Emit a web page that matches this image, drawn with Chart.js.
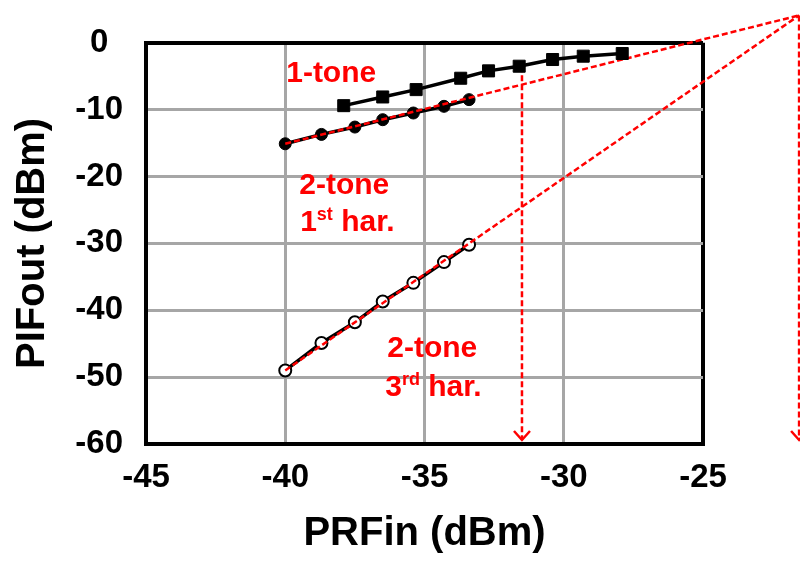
<!DOCTYPE html>
<html>
<head>
<meta charset="utf-8">
<script src="https://cdn.jsdelivr.net/npm/chart.js@4.4.1/dist/chart.umd.min.js"></script>
<style>
  html, body { margin: 0; padding: 0; background: #ffffff; }
  canvas { display: block; }
</style>
</head>
<body>
<canvas id="chart" width="800" height="561"></canvas>
<script>
// Input power sweep (dBm) and measured IF output power (dBm)
const ONE_TONE_PIN  = [-37.9, -36.5, -35.3, -33.7, -32.7, -31.6, -30.4, -29.3, -27.9];
const ONE_TONE_POUT = [-9.4, -8.1, -7.0, -5.3, -4.2, -3.5, -2.5, -2.0, -1.6];

const TWO_TONE_PIN  = [-40.0, -38.7, -37.5, -36.5, -35.4, -34.3, -33.4];
const TWO_TONE_FUND = [-15.1, -13.7, -12.6, -11.5, -10.5, -9.5, -8.5];
const TWO_TONE_IM3  = [-49.0, -44.9, -41.8, -38.7, -35.9, -32.8, -30.2];

// Extrapolated intercept point (input, output) and the 1-dB compression input
const IIP3_PIN  = -21.55;
const IIP3_POUT = 4.1;
const P1DB_PIN  = -31.5;
const P1DB_POUT = -3.5;
const ARROW_END = -59.4;

const X_TICKS = [-45, -40, -35, -30, -25];
const Y_TICKS = [0, -10, -20, -30, -40, -50, -60];

const FONT = "'Liberation Sans', Arial, Helvetica, sans-serif";
const RED = '#ff0000';
const GRID = '#a6a6a6';

const pts = (xs, ys) => xs.map((x, i) => ({ x: x, y: ys[i] }));

// Text labels anchored in data space; parts flagged true are superscripts
const TEXT_LABELS = [
  { x: -38.35, y: -4.27,  parts: [['1-tone', false]] },
  { x: -37.88, y: -21.0,  parts: [['2-tone', false]] },
  { x: -37.77, y: -26.55, parts: [['1', false], ['st', true], [' har.', false]] },
  { x: -34.72, y: -45.4,  parts: [['2-tone', false]] },
  { x: -34.68, y: -51.25, parts: [['3', false], ['rd', true], [' har.', false]] }
];

const annotationPlugin = {
  id: 'annotations',
  afterDatasetsDraw(chart) {
    const ctx = chart.ctx;
    const xs = chart.scales.x, ys = chart.scales.y;

    // arrow heads at the end of the vertical marker lines
    chart.data.datasets.forEach((ds, i) => {
      if (!ds.arrow) return;
      const meta = chart.getDatasetMeta(i);
      const tip = meta.data[meta.data.length - 1];
      ctx.save();
      ctx.strokeStyle = RED;
      ctx.lineWidth = 2.5;
      ctx.beginPath();
      ctx.moveTo(tip.x - 8, tip.y - 9);
      ctx.lineTo(tip.x, tip.y);
      ctx.lineTo(tip.x + 8, tip.y - 9);
      ctx.stroke();
      ctx.restore();
    });

    // series labels
    const size = 30, supSize = 18;
    ctx.save();
    ctx.fillStyle = RED;
    ctx.textBaseline = 'alphabetic';
    ctx.textAlign = 'left';
    TEXT_LABELS.forEach(lbl => {
      const cx = xs.getPixelForValue(lbl.x);
      const cy = ys.getPixelForValue(lbl.y);
      let total = 0;
      const widths = lbl.parts.map(([t, sup]) => {
        ctx.font = 'bold ' + (sup ? supSize : size) + 'px ' + FONT;
        const w = ctx.measureText(t).width;
        total += w;
        return w;
      });
      let x = cx - total / 2;
      const base = cy + size * 0.358;
      lbl.parts.forEach(([t, sup], k) => {
        ctx.font = 'bold ' + (sup ? supSize : size) + 'px ' + FONT;
        ctx.fillText(t, x, sup ? base - 11 : base);
        x += widths[k];
      });
    });
    ctx.restore();
  }
};

const chart = new Chart(document.getElementById('chart'), {
  type: 'scatter',
  data: {
    datasets: [
      {
        label: '1-tone',
        data: pts(ONE_TONE_PIN, ONE_TONE_POUT),
        showLine: true,
        borderColor: '#000000',
        borderWidth: 3.5,
        pointStyle: 'rect',
        pointRadius: 8.5,
        pointBorderWidth: 1,
        pointBackgroundColor: '#000000',
        pointBorderColor: '#000000',
        order: 0
      },
      {
        label: '1st har. fit',
        data: [{ x: TWO_TONE_PIN[0], y: TWO_TONE_FUND[0] }, { x: IIP3_PIN, y: IIP3_POUT }],
        showLine: true,
        borderColor: RED,
        borderWidth: 2.5,
        borderDash: [6, 3],
        pointRadius: 0,
        clip: false,
        order: 1
      },
      {
        label: '3rd har. fit',
        data: [{ x: TWO_TONE_PIN[0], y: TWO_TONE_IM3[0] }, { x: IIP3_PIN, y: IIP3_POUT }],
        showLine: true,
        borderColor: RED,
        borderWidth: 2.5,
        borderDash: [6, 3],
        pointRadius: 0,
        clip: false,
        order: 1
      },
      {
        label: '2-tone 1st har.',
        data: pts(TWO_TONE_PIN, TWO_TONE_FUND),
        showLine: true,
        borderColor: '#000000',
        borderWidth: 3.5,
        pointStyle: 'circle',
        pointRadius: 6,
        pointBorderWidth: 1,
        pointBackgroundColor: '#000000',
        pointBorderColor: '#000000',
        order: 2
      },
      {
        label: '2-tone 3rd har.',
        data: pts(TWO_TONE_PIN, TWO_TONE_IM3),
        showLine: true,
        borderColor: '#000000',
        borderWidth: 3.5,
        pointStyle: 'circle',
        pointRadius: 6,
        pointBorderWidth: 2,
        pointBackgroundColor: '#ffffff',
        pointBorderColor: '#000000',
        order: 3
      },
      {
        label: 'P1dB marker',
        data: [{ x: P1DB_PIN, y: P1DB_POUT }, { x: P1DB_PIN, y: ARROW_END }],
        showLine: true,
        arrow: true,
        borderColor: RED,
        borderWidth: 2.5,
        borderDash: [6, 3],
        pointRadius: 0,
        clip: false,
        order: 4
      },
      {
        label: 'IIP3 marker',
        data: [{ x: IIP3_PIN, y: IIP3_POUT }, { x: IIP3_PIN, y: ARROW_END }],
        showLine: true,
        arrow: true,
        borderColor: RED,
        borderWidth: 2.5,
        borderDash: [6, 3],
        pointRadius: 0,
        clip: false,
        order: 4
      }
    ]
  },
  options: {
    responsive: false,
    devicePixelRatio: 1,
    animation: false,
    events: [],
    layout: { padding: { top: 42, right: 97, left: 0, bottom: 0 } },
    plugins: {
      legend: { display: false },
      tooltip: { enabled: false }
    },
    scales: {
      x: {
        type: 'linear',
        min: X_TICKS[0],
        max: X_TICKS[X_TICKS.length - 1],
        afterBuildTicks: s => { s.ticks = X_TICKS.map(v => ({ value: v })); },
        afterFit: s => { s.height = 117; },
        grid: {
          drawTicks: false,
          color: c => (c.tick && c.tick.value === X_TICKS[X_TICKS.length - 1]) ? '#000000' : GRID,
          lineWidth: c => (c.tick && c.tick.value === X_TICKS[X_TICKS.length - 1]) ? 4 : 3
        },
        border: { display: true, color: '#000000', width: 4 },
        ticks: {
          padding: 14,
          color: '#000000',
          font: { family: FONT, size: 33, weight: 'bold' },
          callback: v => String(v)
        },
        title: {
          display: true,
          text: 'PRFin (dBm)',
          color: '#000000',
          font: { family: FONT, size: 40, weight: 'bold' },
          padding: { top: 0, bottom: 3 }
        }
      },
      y: {
        type: 'linear',
        min: Y_TICKS[Y_TICKS.length - 1],
        max: Y_TICKS[0],
        afterBuildTicks: s => { s.ticks = Y_TICKS.slice().reverse().map(v => ({ value: v })); },
        afterFit: s => { s.width = 146; },
        grid: {
          drawTicks: false,
          color: c => (c.tick && c.tick.value === Y_TICKS[0]) ? '#000000' : GRID,
          lineWidth: c => (c.tick && c.tick.value === Y_TICKS[0]) ? 4 : 3
        },
        border: { display: true, color: '#000000', width: 4 },
        ticks: {
          padding: 23,
          crossAlign: 'center',
          color: '#000000',
          font: { family: FONT, size: 33, weight: 'bold' },
          callback: v => String(v)
        },
        title: {
          display: true,
          text: 'PIFout (dBm)',
          color: '#000000',
          font: { family: FONT, size: 40, weight: 'bold' },
          padding: { top: 9, bottom: 0 }
        }
      }
    }
  },
  plugins: [annotationPlugin]
});
</script>
</body>
</html>
